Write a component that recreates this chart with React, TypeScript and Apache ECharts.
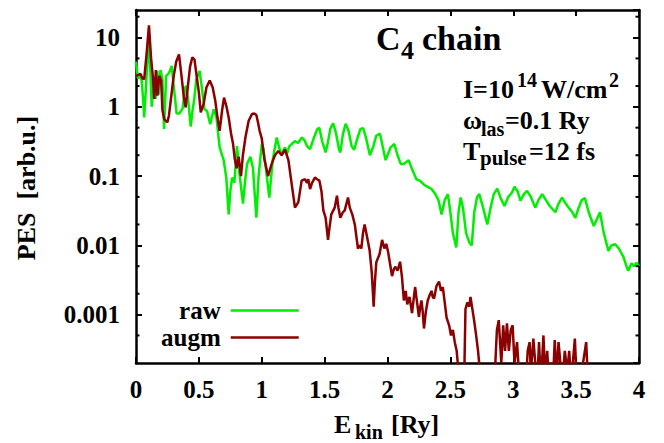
import React, { useEffect, useRef } from "react";
import * as echarts from "echarts";

// ---- data ----
const rawE = [
  0.0, 0.015, 0.03, 0.045, 0.058, 0.065, 0.08, 0.1, 0.115, 0.125, 0.14, 0.155, 0.17, 0.18, 0.195, 0.21, 0.223,
  0.24, 0.257, 0.27, 0.284, 0.3, 0.323, 0.345, 0.371, 0.39, 0.4, 0.416, 0.435, 0.45, 0.461, 0.48, 0.506, 0.522,
  0.545, 0.565, 0.59, 0.618, 0.64, 0.665, 0.697, 0.718, 0.737, 0.75, 0.764, 0.782, 0.803, 0.822, 0.851, 0.866,
  0.883, 0.91, 0.93, 0.957, 0.975, 1.0, 1.013, 1.035, 1.06, 1.087, 1.119, 1.14, 1.159, 1.185, 1.2, 1.22, 1.238,
  1.264, 1.29, 1.317, 1.34, 1.36, 1.384, 1.42, 1.44, 1.458, 1.48, 1.508, 1.525, 1.545, 1.567, 1.59, 1.615, 1.625,
  1.645, 1.667, 1.69, 1.715, 1.735, 1.76, 1.785, 1.807, 1.83, 1.86, 1.885, 1.91, 1.94, 1.965, 1.985, 2.0, 2.025,
  2.054, 2.08, 2.105, 2.13, 2.168, 2.2, 2.23, 2.26, 2.29, 2.32, 2.35, 2.38, 2.405, 2.43, 2.455, 2.48, 2.5, 2.52,
  2.547, 2.565, 2.582, 2.6, 2.625, 2.65, 2.67, 2.69, 2.712, 2.73, 2.76, 2.794, 2.82, 2.845, 2.873, 2.9, 2.93,
  2.96, 2.99, 3.01, 3.035, 3.057, 3.085, 3.11, 3.14, 3.176, 3.2, 3.23, 3.26, 3.29, 3.335, 3.36, 3.388, 3.41,
  3.44, 3.47, 3.494, 3.52, 3.545, 3.57, 3.6, 3.64, 3.67, 3.69, 3.72, 3.757, 3.78, 3.81, 3.84, 3.876, 3.9, 3.915,
  3.94, 3.96, 3.98, 4.0,
];
const rawPES = [
  4.5, 2.6, 2.8, 2.4, 1.2, 0.7, 2.0, 9.5, 3.0, 1.0, 2.2, 1.3, 3.3, 1.5, 3.4, 2.5, 0.48,
  2.8, 3.0, 3.3, 3.9, 2.0, 0.8, 0.8, 0.95, 1.9, 2.0, 1.2, 0.52, 0.9, 1.2, 2.5, 3.3, 2.0,
  0.92, 0.87, 0.56, 0.92, 0.7, 0.26, 0.17, 0.095, 0.028, 0.06, 0.095, 0.08, 0.27, 0.11, 0.04, 0.08,
  0.15, 0.19, 0.13, 0.025, 0.1, 0.29, 0.25, 0.12, 0.049, 0.17, 0.36, 0.25, 0.21, 0.26, 0.21, 0.27, 0.29,
  0.32, 0.3, 0.36, 0.33, 0.27, 0.245, 0.38, 0.47, 0.5, 0.32, 0.22, 0.3, 0.48, 0.58, 0.42, 0.24, 0.22,
  0.4, 0.57, 0.45, 0.27, 0.24, 0.35, 0.48, 0.49, 0.35, 0.2, 0.26, 0.38, 0.41, 0.25, 0.17, 0.2, 0.26,
  0.29, 0.2, 0.15, 0.15, 0.17, 0.12, 0.09, 0.085, 0.075, 0.07, 0.065, 0.055, 0.045, 0.028, 0.045, 0.055, 0.03, 0.015,
  0.0093, 0.03, 0.049, 0.035, 0.015, 0.011, 0.01, 0.03, 0.05, 0.055, 0.035, 0.02, 0.035, 0.055, 0.066, 0.048, 0.037,
  0.05, 0.058, 0.07, 0.06, 0.044, 0.055, 0.061, 0.05, 0.035, 0.045, 0.055, 0.045, 0.037, 0.03, 0.04, 0.049, 0.042,
  0.035, 0.03, 0.025, 0.035, 0.045, 0.048, 0.03, 0.019, 0.025, 0.03, 0.015, 0.0083, 0.01, 0.0104, 0.009, 0.0068, 0.005, 0.0043,
  0.0055, 0.005, 0.0056, 0.005,
];

const augmE = [
  0.0, 0.02, 0.035, 0.05, 0.065, 0.085, 0.103, 0.12, 0.135, 0.145, 0.158, 0.17, 0.185, 0.2, 0.21, 0.225, 0.236,
  0.25, 0.262, 0.28, 0.3, 0.32, 0.342, 0.36, 0.38, 0.395, 0.41, 0.43, 0.448, 0.465, 0.48, 0.5, 0.515, 0.538, 0.56,
  0.586, 0.61, 0.631, 0.648, 0.665, 0.685, 0.7, 0.72, 0.737, 0.755, 0.772, 0.785, 0.8, 0.816, 0.835, 0.85, 0.87,
  0.896, 0.923, 0.94, 0.957, 0.97, 0.983, 1.0, 1.02, 1.05, 1.079, 1.105, 1.132, 1.158, 1.185, 1.212, 1.238, 1.264,
  1.291, 1.317, 1.344, 1.36, 1.37, 1.384, 1.4, 1.423, 1.44, 1.458, 1.475, 1.49, 1.508, 1.527, 1.535, 1.553, 1.58,
  1.598, 1.61, 1.625, 1.645, 1.66, 1.686, 1.7, 1.72, 1.74, 1.765, 1.78, 1.792, 1.805, 1.818, 1.835, 1.858, 1.875,
  1.89, 1.9, 1.911, 1.937, 1.957, 1.975, 1.99, 2.005, 2.036, 2.05, 2.063, 2.08, 2.1, 2.115, 2.13, 2.145, 2.157,
  2.175, 2.195, 2.21, 2.22, 2.235, 2.25, 2.26, 2.27, 2.28, 2.29, 2.305, 2.32, 2.335, 2.35, 2.36, 2.37, 2.39, 2.41,
  2.425, 2.44, 2.455, 2.47, 2.49, 2.505, 2.52, 2.535, 2.55, 2.565, 2.59, 2.61, 2.62, 2.635, 2.65, 2.66, 2.675,
  2.69, 2.705, 2.72, 2.74, 2.77, 2.8, 2.83, 2.85, 2.87, 2.885, 2.895, 2.905, 2.92, 2.935, 2.95, 2.965, 2.98, 2.995,
  3.01, 3.03, 3.045, 3.06, 3.08, 3.1, 3.115, 3.13, 3.14, 3.16, 3.175, 3.19, 3.205, 3.22, 3.24, 3.255, 3.27, 3.285,
  3.3, 3.315, 3.33, 3.345, 3.36, 3.375, 3.39, 3.41, 3.43, 3.445, 3.46, 3.49, 3.505, 3.53, 3.58, 3.595, 3.62, 3.7,
  3.8, 4.0,
];
const augmPES = [
  2.8, 2.9, 3.0, 2.6, 2.5, 6.0, 15, 5.0, 2.6, 1.3, 3.4, 1.45, 2.8, 2.4, 0.9, 0.66, 0.63,
  0.6, 0.75, 1.4, 2.8, 4.5, 5.7, 3.0, 1.4, 0.98, 1.8, 3.8, 5.2, 4.8, 3.0, 1.6, 0.83, 1.1, 1.9,
  2.4, 1.9, 1.2, 0.7, 0.45, 0.9, 1.36, 1.0, 0.7, 0.42, 0.29, 0.18, 0.13, 0.19, 0.1, 0.2, 0.36,
  0.63, 0.79, 0.8, 0.76, 0.6, 0.45, 0.35, 0.18, 0.1, 0.15, 0.2, 0.23, 0.2, 0.24, 0.17, 0.077, 0.035,
  0.042, 0.086, 0.09, 0.08, 0.09, 0.065, 0.08, 0.095, 0.09, 0.086, 0.06, 0.032, 0.025, 0.012, 0.016, 0.028, 0.035,
  0.052, 0.035, 0.025, 0.03, 0.032, 0.049, 0.035, 0.028, 0.02, 0.009, 0.01, 0.009, 0.015, 0.02, 0.014, 0.0084, 0.004,
  0.0013, 0.003, 0.0057, 0.0075, 0.012, 0.009, 0.0105, 0.008, 0.0036, 0.0045, 0.0049, 0.0043, 0.0058, 0.0035, 0.0016, 0.0022, 0.0014,
  0.0018, 0.00105, 0.0018, 0.0025, 0.0015, 0.00093, 0.0013, 0.0016, 0.0011, 0.00063, 0.0011, 0.0016, 0.0019, 0.0022, 0.0018, 0.0017, 0.0026, 0.003,
  0.0022, 0.0025, 0.0015, 0.0009, 0.0007, 0.0005, 0.0006, 0.0004, 0.0003, 0.00015, 0.0001, 0.00012, 0.0012, 0.0015, 0.0013, 0.0018, 0.0012,
  0.0008, 0.0005, 0.0003, 0.00012, 0.0001, 0.0001, 0.0001, 0.0001, 0.0006, 0.00083, 0.0004, 0.0002, 0.0007, 0.0003, 0.00075, 0.0003, 0.0006, 0.0007,
  0.0002, 0.0004, 0.00015, 0.0001, 0.00012, 0.0001, 0.0003, 0.0004, 0.00015, 0.00045, 0.0002, 0.0001, 0.0004, 0.0001, 0.0005, 0.00012, 0.0003, 0.0001,
  0.0002, 0.0001, 0.00043, 0.00012, 0.0004, 0.0002, 0.0001, 0.0003, 0.00015, 0.0003, 0.0001, 0.00045, 0.0001, 0.0001, 0.0004, 0.0001, 0.0001, 0.0001,
  0.0001, 0.0001,
];

const xMin = 0;
const xMax = 4;
const xStep = 0.5;
const yMin = 0.0002;
const yMax = 25;
const yMinorTicks = [0.0005, 0.002, 0.005, 0.02, 0.05, 0.2, 0.5, 2, 5, 20];
const seriesNames = ["raw", "augm"];

const FONT = "'Liberation Serif', 'Times New Roman', Times, serif";
const GREEN = "#00ee00";
const DARKRED = "#8b0000";

function txt(text: string, x: number, baseline: number, size: number, extra: any = {}) {
  // place text so its alphabetic baseline sits at `baseline`
  return {
    type: "text",
    x,
    y: baseline - 0.3375 * size,
    z: 100,
    style: {
      text,
      fill: "#000",
      fontFamily: FONT,
      fontWeight: "bold",
      fontSize: size,
      align: "left",
      verticalAlign: "middle",
      ...extra,
    },
  };
}

export default function App() {
  const ref = useRef<HTMLDivElement>(null);

  useEffect(() => {
    if (!ref.current) return;
    const chart = echarts.init(ref.current, undefined, { renderer: "svg" });

    const axisLine = { onZero: false, lineStyle: { color: "#000", width: 2.5 } };
    const axisTick = { inside: true, length: 6, lineStyle: { color: "#000", width: 2 } };
    const labelStyle = { color: "#000", fontFamily: FONT, fontWeight: "bold" as const, fontSize: 25 };

    const option: any = {
      animation: false,
      backgroundColor: "#fff",
      grid: { left: 136, right: 25, top: 10, bottom: 80 },
      xAxis: [
        {
          type: "value", min: xMin, max: xMax, interval: xStep, position: "bottom",
          axisLine, axisTick, splitLine: { show: false },
          axisLabel: { ...labelStyle, margin: 14 },
        },
        {
          type: "value", min: xMin, max: xMax, interval: xStep, position: "top",
          axisLine, axisTick, splitLine: { show: false }, axisLabel: { show: false },
        },
      ],
      yAxis: [
        {
          type: "log", logBase: 10, min: yMin, max: yMax, position: "left",
          axisLine, axisTick, splitLine: { show: false },
          axisLabel: {
            ...labelStyle, margin: 16, showMinLabel: false, showMaxLabel: false,
            formatter: (v: number) => String(Number(Number(v).toPrecision(6))),
          },
        },
        {
          type: "log", logBase: 10, min: yMin, max: yMax, position: "right",
          axisLine, axisTick, splitLine: { show: false }, axisLabel: { show: false },
        },
      ],
      legend: {
        data: seriesNames.map((n) => ({ name: n, icon: "rect" })),
        orient: "vertical",
        align: "right",
        left: 161,
        top: 298,
        padding: 0,
        itemWidth: 68,
        itemHeight: 2.5,
        itemGap: 2,
        textStyle: { ...labelStyle, padding: [0, 5, 0, 0] },
      },
      series: [
        {
          name: seriesNames[0], type: "line", symbol: "none", clip: true,
          data: rawE.map((e, i) => [e, rawPES[i]]),
          lineStyle: { color: GREEN, width: 2.5 }, itemStyle: { color: GREEN },
        },
        {
          name: seriesNames[1], type: "line", symbol: "none", clip: true,
          data: augmE.map((e, i) => [e, augmPES[i]]),
          lineStyle: { color: DARKRED, width: 2.5 }, itemStyle: { color: DARKRED },
        },
      ],
    };
    chart.setOption(option);

    const xl = chart.convertToPixel({ xAxisIndex: 0 }, xMin) as number;
    const xr = chart.convertToPixel({ xAxisIndex: 0 }, xMax) as number;
    const elements: any[] = [];
    yMinorTicks.forEach((v) => {
      const y = chart.convertToPixel({ yAxisIndex: 0 }, v) as number;
      elements.push({ type: "line", z: 50, shape: { x1: xl, y1: y, x2: xl + 3.5, y2: y }, style: { stroke: "#000", lineWidth: 2 } });
      elements.push({ type: "line", z: 50, shape: { x1: xr - 3.5, y1: y, x2: xr, y2: y }, style: { stroke: "#000", lineWidth: 2 } });
    });

    // title
    elements.push(txt("C", 376, 50, 34));
    elements.push(txt("4", 401, 59, 26));
    elements.push(txt("chain", 422, 50, 34));
    // parameters
    elements.push(txt("I=10", 463, 98, 26));
    elements.push(txt("14", 517, 87, 20));
    elements.push(txt("W/cm", 541, 98, 26));
    elements.push(txt("2", 609, 87, 20));
    elements.push(txt("\u03c9", 463, 129, 26));
    elements.push(txt("las", 481, 136, 20));
    elements.push(txt("=0.1 Ry", 505, 129, 26));
    elements.push(txt("T", 463, 160, 26));
    elements.push(txt("pulse", 480, 165.5, 21));
    elements.push(txt("=12 fs", 529, 160, 26));
    // x axis title
    elements.push(txt("E", 334, 433, 26));
    elements.push(txt("kin", 355, 439, 20));
    elements.push(txt("[Ry]", 391, 433, 26));
    // y axis title
    elements.push({
      type: "text", x: 26, y: 188, rotation: Math.PI / 2, z: 100,
      style: {
        text: "PES \u00a0[arb.u.]", fill: "#000", fontFamily: FONT, fontWeight: "bold", fontSize: 26,
        align: "center", verticalAlign: "middle",
      },
    });

    chart.setOption({ graphic: { elements } });

    return () => chart.dispose();
  }, []);

  return (
    <div
      ref={ref}
      style={{ position: "fixed", left: 0, top: 0, width: 664, height: 443, background: "#fff" }}
    />
  );
}
